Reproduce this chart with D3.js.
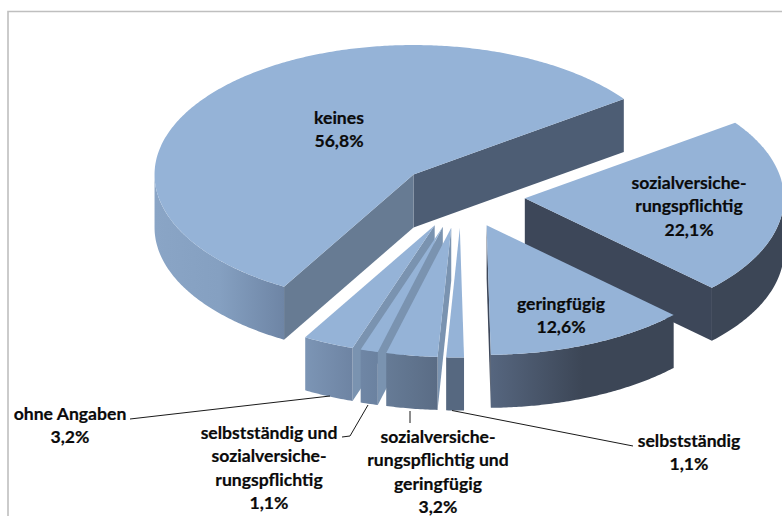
<!DOCTYPE html>
<html><head><meta charset="utf-8">
<script src="https://cdn.jsdelivr.net/npm/d3@7"></script>
<style>html,body{margin:0;padding:0;background:#fff;overflow:hidden}svg{display:block}
text{font-family:Lato,"Open Sans",sans-serif;font-weight:700;font-size:17.6px;fill:#0a0a0a;stroke:#0a0a0a;stroke-width:.2px;text-anchor:middle}</style>
</head><body><script>
const categories=["keines","sozialversicherungspflichtig","geringfügig","selbstständig","sozialversicherungspflichtig und geringfügig","selbstständig und sozialversicherungspflichtig","ohne Angaben"];
const values=[56.8,22.1,12.6,1.1,3.2,1.1,3.2];
const labelLines=[["keines"],["sozialversiche-","rungspflichtig"],["geringfügig"],["selbstständig"],["sozialversiche-","rungspflichtig und","geringfügig"],["selbstständig und","sozialversiche-","rungspflichtig"],["ohne Angaben"]];
const labelAnchors=[[339,123.5],[689,189],[561,310],[689,447],[438,443],[269,439],[70,420]];
const leaderPaths=[null,null,null,[[452,410.5],[633,446]],[[410,411],[410,423]],[[368,405],[350,436],[342,437]],[[330,396],[130,419]]];
const outerStops=[["#8aa5c6","#85a0c1","#6e85a5"],["#3c4656","#3c4656"],["#56667f","#3c4656","#3c4656"],["#566880","#566880"],["#667b96","#5a6c85"],["#6f86a5","#6b82a0"],["#7c95b5","#6e84a3"]];
const edgeColors=[["#4d5d74","#677b93"],["#3d4759","#3d4759"],["#3d4759","#3d4759"],["#566880","#566880"],["#7a93b0","#7a93b0"],["#7a93b0","#7a93b0"],["#7a93b0","#7a93b0"]];
const topColor="#95b3d7", W=782,H=516;
const cx=461,cy=196,R=259,tilt=.5,depth=53,explode=64,startDeg=-150;

const svg=d3.select("body").append("svg").attr("width",W).attr("height",H);
const defs=svg.append("defs");
svg.append("path").attr("d",`M8,${H}V11.5H${W}`).attr("fill","none").attr("stroke","#bfbfbf").attr("stroke-width",1.6);

const arcs=d3.pie().sort(null).value(d=>d).startAngle(startDeg*Math.PI/180).endAngle((startDeg+360)*Math.PI/180)(values);
const sx=d3.scaleLinear().domain([-1,1]).range([-R,R]);
const sy=d3.scaleLinear().domain([-1,1]).range([-R*tilt,R*tilt]);
function centre(a){const m=(a.startAngle+a.endAngle)/2;
  return [cx+explode*Math.sin(m),cy-explode*tilt*Math.cos(m)];}
function rim(c,ang,dz=0){return [c[0]+sx(Math.sin(ang)),c[1]-sy(Math.cos(ang))+dz];}
const line=d3.line();
function arcPts(c,a0,a1,dz=0){const n=Math.max(2,Math.ceil(Math.abs(a1-a0)/.01));
  return d3.range(n+1).map(i=>rim(c,a0+(a1-a0)*i/n,dz));}
function frontSpans(a0,a1){const out=[],P=Math.PI;
  for(let k=-1;k<=1;k++){const lo=P/2+2*P*k,hi=3*P/2+2*P*k,s=Math.max(a0,lo),e=Math.min(a1,hi);if(e>s)out.push([s,e]);}
  return out;}
const order=[0,1,2,6,5,4,3];
order.forEach(i=>{
  const a=arcs[i],c=centre(a),g=svg.append("g").attr("class","slice");
  [[a.endAngle,a.endAngle+Math.PI/2,0],[a.startAngle,a.startAngle-Math.PI/2,1]].forEach(([e,n,k])=>{
    if(Math.cos(n)<0){const p=rim(c,e);
      g.append("path").attr("d",line([c,p,[p[0],p[1]+depth],[c[0],c[1]+depth]])+"Z").attr("fill",edgeColors[i][k]);}
  });
  frontSpans(a.startAngle,a.endAngle).forEach((sp,j)=>{
    const top=arcPts(c,sp[0],sp[1]),bot=arcPts(c,sp[0],sp[1],depth).reverse();
    const ext=d3.extent(top,d=>d[0]),id=`w${i}_${j}`;
    const lg=defs.append("linearGradient").attr("id",id).attr("gradientUnits","userSpaceOnUse")
      .attr("x1",ext[0]).attr("x2",ext[1]).attr("y1",0).attr("y2",0);
    outerStops[i].forEach((col,q,all)=>lg.append("stop").attr("offset",q/(all.length-1)).attr("stop-color",col));
    g.append("path").attr("d",line(top.concat(bot))+"Z").attr("fill",`url(#${id})`);
  });
  g.append("path").attr("d",line([c].concat(arcPts(c,a.startAngle,a.endAngle)))+"Z").attr("fill",topColor);
});
leaderPaths.forEach(p=>{if(p)svg.append("path").attr("d",line(p)).attr("fill","none").attr("stroke","#1a1a1a").attr("stroke-width",1);});
values.forEach((v,i)=>{
  const t=svg.append("text").attr("transform",`translate(${labelAnchors[i][0]},${labelAnchors[i][1]})`);
  labelLines[i].concat([v.toFixed(1).replace(".",",")+"%"]).forEach((s,k)=>t.append("tspan").attr("x",0).attr("y",k*23.4).text(s));
});
</script></body></html>
